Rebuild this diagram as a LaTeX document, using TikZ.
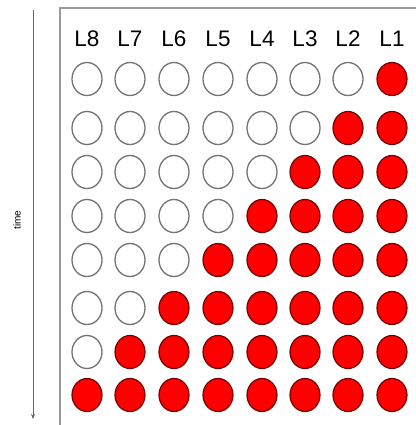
\documentclass[tikz,border=0pt]{standalone}
\usepackage{fontspec}
\setmainfont{Liberation Sans}
\usetikzlibrary{arrows.meta,shapes.geometric}
\begin{document}
\begin{tikzpicture}[x=1pt,y=-1pt,
  emptydot/.style={ellipse,draw=black!55,line width=1.3pt,fill=white,minimum width=30pt,minimum height=33pt,inner sep=0pt},
  fulldot/.style={ellipse,draw=red!45!black,line width=1.2pt,fill=red,minimum width=30pt,minimum height=33pt,inner sep=0pt},
  lab/.style={font=\fontsize{22.5}{24}\selectfont,inner sep=0pt},
  frameline/.style={draw=black!40,line width=1.3pt}]
\useasboundingbox (0,0) rectangle (415,425);
\coordinate (ftop) at (60,8);
\coordinate (fright) at (416,8);
\coordinate (fbot) at (60,426);
\draw[frameline] (fbot) -- (ftop) -- (fright);
\coordinate (tstart) at (33,10);
\coordinate (tend) at (33,419);
\draw[black!60,line width=0.9pt,-{Stealth[length=5pt,width=4pt]}] (tstart) -- (tend);
\node[rotate=90,font=\fontsize{10}{11}\selectfont] (time) at (17,220) {time};
\def\colx{{87,130,174,218,262,305,348,392}}
\def\rowy{{79,128,172,216,260,308,352,395}}
\foreach \i in {1,...,8}{
  \pgfmathsetmacro{\xx}{\colx[\i-1]}
  \pgfmathtruncatemacro{\L}{9-\i}
  \node[lab] (lab\L) at (\xx,39) {L\L};
  \foreach \r in {1,...,8}{
    \pgfmathsetmacro{\yy}{\rowy[\r-1]}
    \ifnum\L>\r
      \node[emptydot] (d\L-\r) at (\xx,\yy) {};
    \else
      \node[fulldot] (d\L-\r) at (\xx,\yy) {};
    \fi
  }
}
\end{tikzpicture}
\end{document}
